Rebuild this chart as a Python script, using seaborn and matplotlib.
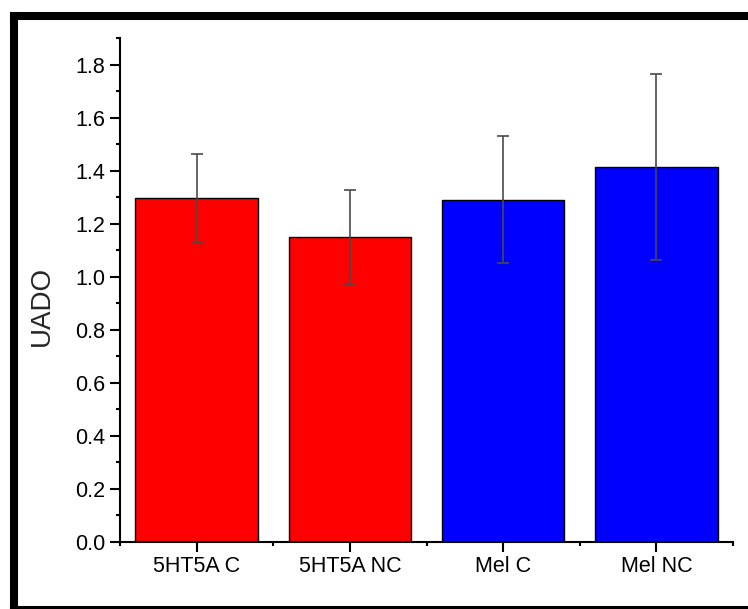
import numpy as np
import pandas as pd
import matplotlib
matplotlib.use('Agg')
import matplotlib.pyplot as plt
import seaborn as sns
from matplotlib.lines import Line2D
from matplotlib.ticker import MultipleLocator, FixedLocator

groups = ['5HT5A C', '5HT5A NC', 'Mel C', 'Mel NC']
means = [1.297, 1.150, 1.290, 1.414]
errors = [0.166, 0.178, 0.240, 0.351]
colors = ['#FF0000', '#FF0000', '#0000FF', '#0000FF']

df = pd.DataFrame({'group': groups, 'UADO': means})

sns.set_style('ticks')
plt.rcParams['font.family'] = ['Liberation Sans', 'DejaVu Sans']

fig = plt.figure(figsize=(7.48, 6.09), dpi=100)
ax = fig.add_axes([0.1604, 0.1105, 0.8196, 0.8271])

sns.barplot(data=df, x='group', y='UADO', hue='group', palette=colors,
            width=0.8, edgecolor='black', linewidth=1.0, saturation=1,
            legend=False, ax=ax)
ax.errorbar(np.arange(len(groups)), means, yerr=errors, fmt='none',
            ecolor='#4a4a4a', elinewidth=1.2, capsize=4, capthick=1.2)

ax.set_xlim(-0.5, 3.5)
ax.set_ylim(0, 1.9)
ax.yaxis.set_major_locator(MultipleLocator(0.2))
ax.yaxis.set_minor_locator(MultipleLocator(0.1))
ax.xaxis.set_minor_locator(FixedLocator([-0.5, 0.5, 1.5, 2.5, 3.5]))
ax.yaxis.set_major_formatter(matplotlib.ticker.FormatStrFormatter('%.1f'))

sns.despine(ax=ax)
for s in ['left', 'bottom']:
    ax.spines[s].set_linewidth(1.5)
    ax.spines[s].set_color('black')
ax.tick_params(which='major', length=7, width=1.5, labelsize=15.5, colors='black', pad=3.5)
ax.tick_params(which='minor', length=3, width=1.5, colors='black')
ax.set_xlabel('')
ax.set_ylabel('UADO', fontsize=20)
ax.yaxis.set_label_coords(-0.106, 0.468)

# black frame round the picture (top, left, bottom; right side is cut off)
x0, y0 = 14 / 748, 1 - 16 / 609
for xs, ys in [([x0, 1.05], [y0, y0]),
               ([x0, x0], [-0.05, y0]),
               ([x0, 1.05], [-1 / 609, -1 / 609])]:
    fig.add_artist(Line2D(xs, ys, transform=fig.transFigure, color='black',
                          linewidth=5.8, solid_capstyle='projecting'))

fig.savefig('out.png', dpi=100)
